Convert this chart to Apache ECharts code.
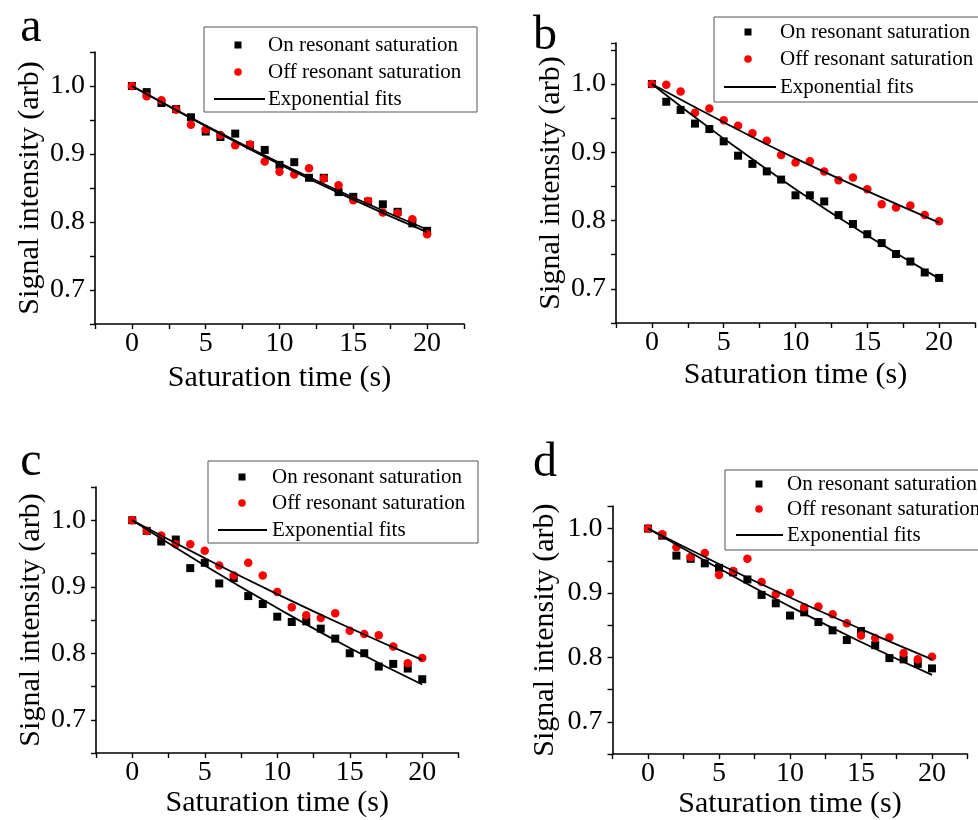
<!DOCTYPE html>
<html>
<head>
<meta charset="utf-8">
<script src="https://cdn.jsdelivr.net/npm/echarts@6/dist/echarts.min.js"></script>
<style>
html,body{margin:0;padding:0;background:#fff;}
#chart{width:978px;height:820px;}
</style>
</head>
<body>
<div id="chart"></div>
<script>
// ---- data ----
const times = [0,1,2,3,4,5,6,7,8,9,10,11,12,13,14,15,16,17,18,19,20];
const fitTimes = [0,5,10,15,20];
const xMajorTicks = [0,5,10,15,20];
const yMajorTicks = [0.7,0.8,0.9,1.0];
const panelLetters = ['a','b','c','d'];
const legendLabels = ['On resonant saturation','Off resonant saturation','Exponential fits'];
const xTitle = 'Saturation time (s)';
const yTitle = 'Signal intensity (arb)';

const aOn  = [1.0,0.991,0.975,0.966,0.954,0.933,0.925,0.930,0.913,0.906,0.884,0.888,0.865,0.865,0.844,0.837,0.830,0.826,0.815,0.798,0.787];
const aOff = [1.0,0.985,0.979,0.965,0.943,0.936,0.928,0.913,0.914,0.889,0.874,0.870,0.879,0.864,0.854,0.832,0.831,0.814,0.813,0.804,0.782];
const aOnFit  = [1.0,0.942,0.887,0.836,0.789];
const aOffFit = [1.0,0.941,0.885,0.833,0.785];

const bOn  = [1.0,0.974,0.962,0.942,0.934,0.916,0.895,0.883,0.872,0.860,0.837,0.837,0.828,0.808,0.795,0.780,0.767,0.751,0.740,0.724,0.716];
const bOff = [1.0,0.999,0.989,0.958,0.964,0.947,0.939,0.928,0.917,0.896,0.885,0.887,0.872,0.859,0.863,0.846,0.824,0.819,0.822,0.808,0.799];
const bOnFit  = [1.0,0.920,0.846,0.778,0.715];
const bOffFit = [1.0,0.944,0.891,0.843,0.797];

const cOn  = [1.0,0.984,0.968,0.971,0.928,0.936,0.905,0.913,0.886,0.874,0.855,0.847,0.848,0.837,0.822,0.800,0.800,0.780,0.784,0.777,0.761];
const cOff = [1.0,0.984,0.977,0.964,0.964,0.954,0.932,0.917,0.936,0.917,0.892,0.869,0.857,0.853,0.860,0.834,0.829,0.827,0.810,0.785,0.793];
const cOnFit  = [1.0,0.932,0.868,0.808,0.753];
const cOffFit = [1.0,0.943,0.889,0.838,0.790];

const dOn  = [1.0,0.989,0.958,0.953,0.946,0.939,0.932,0.921,0.897,0.884,0.865,0.870,0.855,0.842,0.827,0.841,0.819,0.799,0.797,0.790,0.783];
const dOff = [1.0,0.991,0.971,0.956,0.962,0.928,0.934,0.953,0.917,0.898,0.900,0.878,0.879,0.867,0.853,0.834,0.830,0.831,0.807,0.797,0.801];
const dOnFit  = [1.0,0.938,0.879,0.824,0.773];
const dOffFit = [1.0,0.945,0.893,0.844,0.797];

// ---- layout ----
const FONT = '"Liberation Serif", "Times New Roman", serif';
const panels = [
  {on:aOn, off:aOff, onFit:aOnFit, offFit:aOffFit, grid:{left:95, top:52, width:369, height:272}, yMax:1.05, yGap:50, xGap:39,
   letter:{x:31, y:28}, legend:{x:204,y:27,w:273,h:85, sx:238, rows:[45,72,99], l1:214, l2:265, tx:268}},
  {on:bOn, off:bOff, onFit:bOnFit, offFit:bOffFit, grid:{left:616, top:43, width:369, height:280}, yMax:1.06, yGap:50, xGap:37,
   letter:{x:545, y:36}, legend:{x:714,y:17,w:280,h:85, sx:748, rows:[32,59,87], l1:724, l2:776, tx:780}},
  {on:cOn, off:cOff, onFit:cOnFit, offFit:cOffFit, grid:{left:96, top:487, width:362.5, height:266}, yMax:1.05, yGap:50, xGap:34,
   letter:{x:31, y:462}, legend:{x:208,y:461,w:270,h:82, sx:242, rows:[477,503,530], l1:218, l2:267, tx:272}},
  {on:dOn, off:dOff, onFit:dOnFit, offFit:dOffFit, grid:{left:612.5, top:506, width:355, height:251}, yMax:1.035, yGap:52, xGap:34,
   letter:{x:545, y:463}, legend:{x:725,y:470,w:270,h:80, sx:759, rows:[484,509,535], l1:736, l2:783, tx:787}}
];

const isMajor = (v, list) => list.some(t => Math.abs(v - t) < 1e-6);

const option = {
  animation:false,
  backgroundColor:'#fff',
  grid:[], xAxis:[], yAxis:[], series:[], graphic:[]
};

panels.forEach((p, i) => {
  option.grid.push(Object.assign({containLabel:false}, p.grid));
  option.xAxis.push({
    type:'value', gridIndex:i, min:-2.5, max:22.5, interval:2.5,
    name:xTitle, nameLocation:'middle', nameGap:p.xGap,
    nameTextStyle:{fontFamily:FONT, fontSize:30, color:'#000'},
    axisLine:{show:true, onZero:false, lineStyle:{color:'#000', width:1.6}},
    axisTick:{show:true, inside:false, length:5, lineStyle:{color:'#000', width:1.4}},
    axisLabel:{show:true, margin:6, fontFamily:FONT, fontSize:28, color:'#000',
      showMinLabel:true, showMaxLabel:true,
      formatter:v => isMajor(v, xMajorTicks) ? String(Math.round(v)) : ''},
    splitLine:{show:false}
  });
  option.yAxis.push({
    type:'value', gridIndex:i, min:0.65, max:p.yMax, interval:0.05,
    name:yTitle, nameLocation:'middle', nameGap:p.yGap, nameRotate:90,
    nameTextStyle:{fontFamily:FONT, fontSize:30, color:'#000'},
    axisLine:{show:true, onZero:false, lineStyle:{color:'#000', width:1.6}},
    axisTick:{show:true, inside:false, length:5, lineStyle:{color:'#000', width:1.4}},
    axisLabel:{show:true, margin:10, fontFamily:FONT, fontSize:28, color:'#000',
      formatter:v => isMajor(v, yMajorTicks) ? v.toFixed(1) : ''},
    splitLine:{show:false}
  });
  option.series.push({
    type:'scatter', name:legendLabels[0], xAxisIndex:i, yAxisIndex:i, z:2,
    symbol:'rect', symbolSize:8, itemStyle:{color:'#000', opacity:1},
    data: times.map((t,k)=>[t, p.on[k]])
  });
  option.series.push({
    type:'scatter', name:legendLabels[1], xAxisIndex:i, yAxisIndex:i, z:3,
    symbol:'circle', symbolSize:8.5, itemStyle:{color:'#ff0000', opacity:1},
    data: times.map((t,k)=>[t, p.off[k]])
  });
  [p.onFit, p.offFit].forEach(fit => {
    option.series.push({
      type:'line', name:legendLabels[2], xAxisIndex:i, yAxisIndex:i, z:4,
      smooth:true, showSymbol:false, symbol:'none',
      lineStyle:{color:'#000', width:1.8},
      data: fitTimes.map((t,k)=>[t, fit[k]])
    });
  });

  // panel letter
  option.graphic.push({
    type:'text', x:p.letter.x, y:p.letter.y, z:100,
    style:{text:panelLetters[i], fontFamily:FONT, fontSize:48, fill:'#000', align:'center', verticalAlign:'middle'}
  });
  // legend box
  const L = p.legend;
  option.graphic.push({
    type:'rect', z:90, shape:{x:L.x, y:L.y, width:L.w, height:L.h},
    style:{fill:'#fff', stroke:'#555', lineWidth:1}
  });
  option.graphic.push({
    type:'rect', z:100, shape:{x:L.sx-3.5, y:L.rows[0]-3.5, width:7, height:7},
    style:{fill:'#000'}
  });
  option.graphic.push({
    type:'circle', z:100, shape:{cx:L.sx, cy:L.rows[1], r:3.8},
    style:{fill:'#ff0000'}
  });
  option.graphic.push({
    type:'line', z:100, shape:{x1:L.l1, y1:L.rows[2], x2:L.l2, y2:L.rows[2]},
    style:{stroke:'#000', lineWidth:1.8}
  });
  legendLabels.forEach((lab, k) => {
    option.graphic.push({
      type:'text', z:100, x:L.tx, y:L.rows[k],
      style:{text:lab, fontFamily:FONT, fontSize:21, fill:'#000', align:'left', verticalAlign:'middle'}
    });
  });
});

const chart = echarts.init(document.getElementById('chart'), null, {renderer:'canvas', width:978, height:820});
chart.setOption(option);
</script>
</body>
</html>
